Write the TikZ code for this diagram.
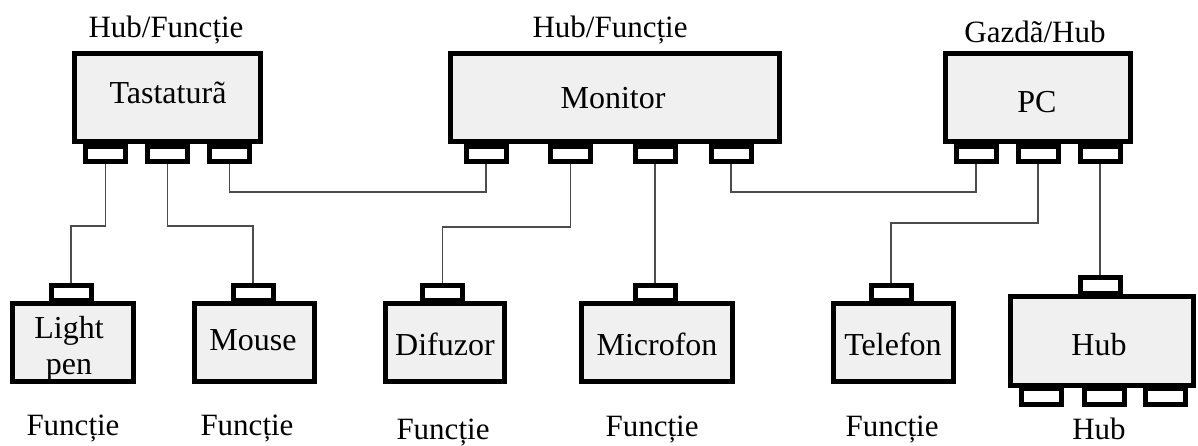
\documentclass[tikz,border=0pt]{standalone}
\usepackage{fontspec}
\setmainfont{Liberation Serif}
\begin{document}
\begin{tikzpicture}[x=1pt,y=-1pt,
  dev/.style={draw, line width=5pt, fill=black!6, inner sep=0pt},
  port/.style={draw, line width=5pt, fill=white, inner sep=0pt,
    minimum width=40pt, minimum height=15.5pt},
  lbl/.style={font=\fontsize{31}{36}\selectfont, inner sep=0pt, anchor=base},
  txt/.style={font=\fontsize{32}{36}\selectfont, inner sep=0pt, anchor=base},
  wire/.style={draw=black!70, line width=1.2pt}]
\useasboundingbox (0,0) rectangle (1198,445);

% devices
\node[dev, minimum width=186pt, minimum height=88pt] (tast) at (167.5,97.5) {};
\node[dev, minimum width=329pt, minimum height=88pt] (mon) at (615,97.5) {};
\node[dev, minimum width=185pt, minimum height=88pt] (pc) at (1038,97.5) {};
\node[dev, minimum width=121pt, minimum height=78pt] (lp) at (73,342.5) {};
\node[dev, minimum width=120pt, minimum height=78pt] (mouse) at (254.5,342.5) {};
\node[dev, minimum width=119pt, minimum height=78pt] (dif) at (445,342.5) {};
\node[dev, minimum width=151pt, minimum height=78pt] (mic) at (657,342.5) {};
\node[dev, minimum width=120pt, minimum height=78pt] (tel) at (893.5,342.5) {};
\node[dev, minimum width=183pt, minimum height=89pt] (hub) at (1102,341) {};

% ports under the upper devices
\node[port] (tp1) at (105.5,153.75) {};
\node[port] (tp2) at (167.5,153.75) {};
\node[port] (tp3) at (229.5,153.75) {};
\node[port] (mp1) at (486,153.75) {};
\node[port] (mp2) at (570.5,153.75) {};
\node[port] (mp3) at (655,153.75) {};
\node[port] (mp4) at (731,153.75) {};
\node[port] (pp1) at (976,153.75) {};
\node[port] (pp2) at (1038,153.75) {};
\node[port] (pp3) at (1100,153.75) {};

% ports on top of the lower devices
\node[port] (lpp) at (71,292.75) {};
\node[port] (mop) at (253,292.75) {};
\node[port] (dfp) at (442.5,292.75) {};
\node[port] (mcp) at (655,292.75) {};
\node[port] (tlp) at (891,292.75) {};
\node[port] (hbt) at (1100,285.5) {};

% downstream ports of the hub
\node[port] (hb1) at (1041.5,396.5) {};
\node[port] (hb2) at (1104,396.5) {};
\node[port] (hb3) at (1165.5,396.5) {};

% cables
\draw[wire] (tp1.south) |- (lpp.north |- 0,226) -- (lpp.north);
\draw[wire] (tp2.south) |- (mop.north |- 0,226) -- (mop.north);
\draw[wire] (tp3.south) |- (mp1.south |- 0,192) -- (mp1.south);
\draw[wire] (mp2.south) |- (dfp.north |- 0,227) -- (dfp.north);
\draw[wire] (mp3.south) -- (mcp.north);
\draw[wire] (mp4.south) |- (pp1.south |- 0,192) -- (pp1.south);
\draw[wire] (pp2.south) |- (tlp.north |- 0,223) -- (tlp.north);
\draw[wire] (pp3.south) -- (hbt.north);

% device names
\node[txt] (t-tast) at (168,103) {Tastaturã};
\node[txt] (t-mon) at (613,108) {Monitor};
\node[txt] (t-pc) at (1037,112) {PC};
\node[txt] (t-lp1) at (69,338) {Light};
\node[txt] (t-lp2) at (69,374) {pen};
\node[txt] (t-mouse) at (253,350) {Mouse};
\node[txt] (t-dif) at (445,355) {Difuzor};
\node[txt] (t-mic) at (657,355) {Microfon};
\node[txt] (t-tel) at (893,355) {Telefon};
\node[txt] (t-hub) at (1099,355) {Hub};

% roles
\node[lbl] (r-tast) at (166,37) {Hub/Funcție};
\node[lbl] (r-mon) at (610,37) {Hub/Funcție};
\node[lbl] (r-pc) at (1035,42) {Gazdã/Hub};
\node[lbl] (r-lp) at (73,435) {Funcție};
\node[lbl] (r-mouse) at (247,435) {Funcție};
\node[lbl] (r-dif) at (443,439) {Funcție};
\node[lbl] (r-mic) at (652,436) {Funcție};
\node[lbl] (r-tel) at (892,436) {Funcție};
\node[lbl] (r-hub) at (1099,439) {Hub};
\end{tikzpicture}
\end{document}
